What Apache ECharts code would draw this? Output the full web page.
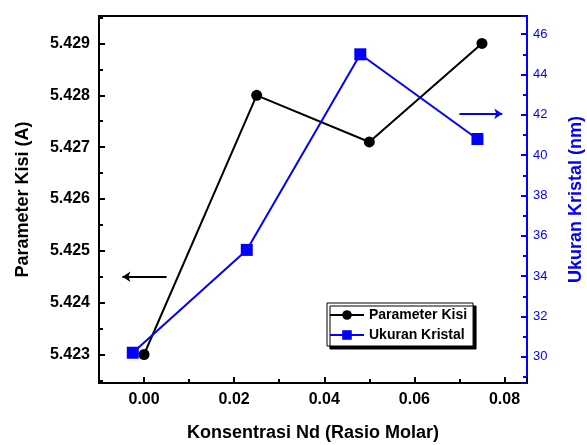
<!DOCTYPE html>
<html><head><meta charset="utf-8">
<script src="https://cdn.jsdelivr.net/npm/echarts@6/dist/echarts.min.js"></script>
<style>html,body{margin:0;padding:0;background:#fff}#c{width:587px;height:445px}</style>
</head><body><div id="c"></div>
<script>
const xKisi = [0, 0.025, 0.05, 0.075];
const kisi = [5.4230, 5.4280, 5.4271, 5.4290];
const xKristal = [-0.0025, 0.0228, 0.048, 0.074];
const kristal = [30.2, 35.3, 45.0, 40.8];
const leftArrow = [[0.005, 5.4245], [-0.0048, 5.4245]];
const rightArrow = [[0.0700, 42.05], [0.0795, 42.05]];
const BLUE = '#0000ff';
const FONT = 'Liberation Sans, Arial, sans-serif';

function isMult(v, step) { return Math.abs(v / step - Math.round(v / step)) < 1e-6; }

const chart = echarts.init(document.getElementById('c'), null, {renderer: 'canvas'});
chart.setOption({
  animation: false,
  backgroundColor: '#fff',
  grid: {left: 99, right: 60, top: 16, bottom: 62, containLabel: false, outerBoundsMode: 'none',
    show: true, borderColor: '#000', borderWidth: 2, backgroundColor: 'transparent'},
  legend: {
    orient: 'vertical', left: 327, top: 303,
    itemWidth: 34, itemHeight: 12, itemGap: 6,
    padding: [5, 6, 4, 2],
    backgroundColor: '#fff', borderColor: '#000', borderWidth: 1,
    shadowColor: '#000', shadowBlur: 0, shadowOffsetX: 3, shadowOffsetY: 3,
    textStyle: {fontFamily: FONT, fontSize: 14, fontWeight: 'bold', color: '#000'},
    data: ['Parameter Kisi', 'Ukuran Kristal']
  },
  xAxis: {
    type: 'value', min: -0.01, max: 0.085, splitNumber: 5,
    name: 'Konsentrasi Nd (Rasio Molar)', nameLocation: 'middle', nameGap: 41,
    nameTextStyle: {fontFamily: FONT, fontSize: 18, fontWeight: 'bold', color: '#000'},
    axisLine: {onZero: false, lineStyle: {color: '#000', width: 2}},
    axisTick: {inside: true, length: 6, lineStyle: {color: '#000', width: 2}},
    minorTick: {show: true, splitNumber: 2, length: 4, lineStyle: {color: '#000', width: 2}},
    splitLine: {show: false},
    axisLabel: {margin: 9, fontFamily: FONT, fontSize: 16, fontWeight: 'bold', color: '#000',
      showMinLabel: false, showMaxLabel: false,
      formatter: v => isMult(v, 0.02) ? Math.abs(v).toFixed(2) : ''}
  },
  yAxis: [{
    type: 'value', min: 5.42245, max: 5.42953, splitNumber: 7, position: 'left',
    name: 'Parameter Kisi (A)', nameLocation: 'middle', nameGap: 67, nameRotate: 90,
    nameTextStyle: {fontFamily: FONT, fontSize: 18, fontWeight: 'bold', color: '#000'},
    axisLine: {show: true, onZero: false, lineStyle: {color: '#000', width: 2}},
    axisTick: {inside: true, length: 6, lineStyle: {color: '#000', width: 2}},
    minorTick: {show: true, splitNumber: 2, length: 4, lineStyle: {color: '#000', width: 2}},
    splitLine: {show: false},
    axisLabel: {margin: 9, fontFamily: FONT, fontSize: 16, fontWeight: 'bold', color: '#000',
      showMinLabel: false, showMaxLabel: false,
      formatter: v => isMult(v, 0.001) ? v.toFixed(3) : ''}
  }, {
    type: 'value', min: 28.7, max: 46.9, splitNumber: 9, position: 'right',
    name: 'Ukuran Kristal (nm)', nameLocation: 'middle', nameGap: 40, nameRotate: 90,
    nameTextStyle: {fontFamily: FONT, fontSize: 18, fontWeight: 'bold', color: BLUE},
    axisLine: {show: true, onZero: false, lineStyle: {color: BLUE, width: 2}},
    axisTick: {inside: true, length: 6, lineStyle: {color: BLUE, width: 2}},
    minorTick: {show: true, splitNumber: 2, length: 4, lineStyle: {color: BLUE, width: 2}},
    splitLine: {show: false},
    axisLabel: {margin: 6, fontFamily: FONT, fontSize: 13, color: BLUE,
      showMinLabel: false, showMaxLabel: false,
      formatter: v => isMult(v, 2) ? String(Math.round(v)) : ''}
  }],
  series: [{
    name: 'Parameter Kisi', type: 'line', yAxisIndex: 0,
    data: xKisi.map((x, i) => [x, kisi[i]]),
    symbol: 'circle', symbolSize: 11,
    lineStyle: {color: '#000', width: 2}, itemStyle: {color: '#000'},
    markLine: {silent: true, symbol: ['none', 'arrow'], symbolSize: [8, 8],
      label: {show: false}, lineStyle: {color: '#000', width: 2, type: 'solid'},
      data: [[{coord: leftArrow[0]}, {coord: leftArrow[1]}]]}
  }, {
    name: 'Ukuran Kristal', type: 'line', yAxisIndex: 1,
    data: xKristal.map((x, i) => [x, kristal[i]]),
    symbol: 'rect', symbolSize: 12,
    lineStyle: {color: BLUE, width: 2}, itemStyle: {color: BLUE},
    markLine: {silent: true, symbol: ['none', 'arrow'], symbolSize: [8, 8],
      label: {show: false}, lineStyle: {color: BLUE, width: 2, type: 'solid'},
      data: [[{coord: rightArrow[0]}, {coord: rightArrow[1]}]]}
  }]
});
</script></body></html>
